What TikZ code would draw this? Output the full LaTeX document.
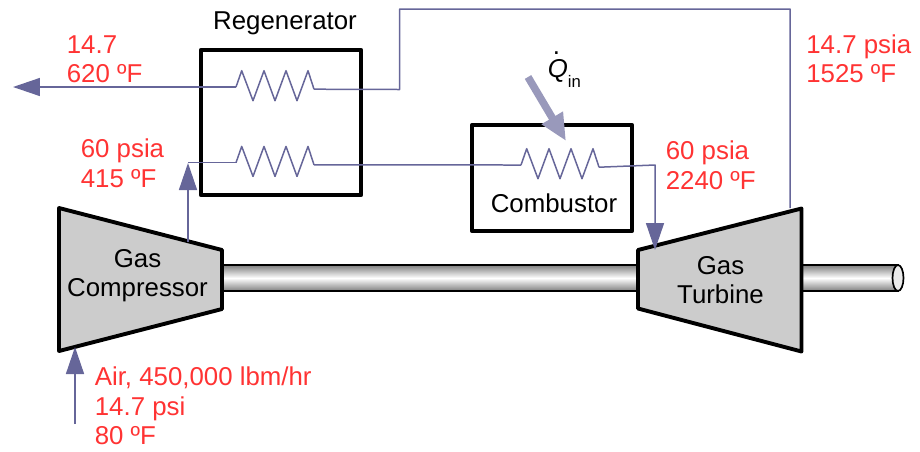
\documentclass[tikz,border=0pt]{standalone}
\usepackage{fontspec}
\setmainfont{Liberation Sans}
\usetikzlibrary{arrows.meta}
\definecolor{flowblue}{HTML}{666699}
\definecolor{heatblue}{HTML}{9999BB}
\definecolor{statered}{HTML}{FF3333}
\definecolor{machinegray}{HTML}{CCCCCC}
\newcommand{\coil}[3]{%
  \coordinate (#1in) at (#2,#3);
  \draw[flow] (#1in) -- ++(5.7,-16.3) -- ++(11.3,30) -- ++(11,-30) -- ++(11,30)
    -- ++(11,-30) -- ++(11,30) -- ++(11,-30) -- ++(6,18.5) coordinate (#1out);
}
\begin{document}
\begin{tikzpicture}[
  x=.02cm,y=-.02cm,
  font=\fontsize{14.7}{16.7}\selectfont,
  flow/.style={draw=flowblue,line width=.03cm,line join=round},
  flowhead/.style={flow,-{Triangle[length=.54cm,width=.36cm,fill=flowblue]}},
  heatflow/.style={draw=heatblue,line width=.15cm,
    -{Triangle[length=.54cm,width=.46cm,fill=heatblue]}},
  vessel/.style={draw=black,line width=.078cm,line join=round},
  machine/.style={vessel,fill=machinegray},
  shaft/.style={draw=black,line width=.034cm,top color=black!50,bottom color=black!50,middle color=white},
  lab/.style={inner sep=0pt,align=center,anchor=north},
  statelab/.style={inner sep=0pt,align=left,anchor=north west,text=statered}
]
\useasboundingbox (0,0) rectangle (920,451);
\draw[shaft] (222,265) rectangle (638,291);
\draw[shaft] (802,265) rectangle (898,291);
\draw[draw=black,line width=.034cm,fill=white!92!black] (898,278) ellipse (5.5 and 13);
\draw[machine] (59,208) -- (222,250) -- (222,309) -- (59,351) -- cycle;
\draw[machine] (638,250) -- (801.5,208.5) -- (801.5,351.5) -- (638,308.5) -- cycle;
\node[vessel,minimum width=3.21cm,minimum height=2.906cm,inner sep=0pt] (regen) at (281,122.4) {};
\node[vessel,minimum width=3.21cm,minimum height=2.11cm,inner sep=0pt] (combustor) at (552,178) {};
\node[lab,anchor=base] (regenlab) at (285,29) {Regenerator};
\node[lab,anchor=base] (comblab) at (554,212.7) {Combustor};
\node[lab] (complab) at (137.5,249) {Gas\\Compressor};
\node[lab] (turblab) at (720.5,256) {Gas\\Turbine};
\coil{hot}{236}{87}
\coil{cold}{236}{162.7}
\coil{burn}{521}{165}
\coordinate (airin) at (75,424);
\coordinate (airend) at (75,347);
\coordinate (compout) at (188,242);
\coordinate (coldturn) at (188,163);
\coordinate (burnturn) at (655,165);
\coordinate (turbin) at (655,250);
\coordinate (turbout) at (790,208);
\coordinate (exhaust) at (13,87);
\coordinate (heatstart) at (528,77);
\coordinate (heatend) at (566,141);
\draw[flowhead] (airin) -- (airend);
\draw[flowhead] (compout) -- (coldturn);
\draw[flow] (188,162.7) -- (coldin);
\draw[flow] (coldout) -- (burnin);
\draw[flowhead] (burnout) -- (burnturn) -- (turbin);
\draw[flow] (turbout) -- (790,9) -- (399.5,9) -- (399.5,89.5) -- (hotout);
\draw[flowhead] (hotin) -- (exhaust);
\draw[heatflow] (heatstart) -- (heatend);
\node[inner sep=0pt,anchor=base west] (qin) at (547.5,77)
  {\makebox[0pt][l]{\hspace{.19em}\raisebox{.875em}{.}}\textit{Q}\raisebox{-.42em}{\fontsize{9.5}{10}\selectfont in}};
\node[statelab] (stateexh) at (66.5,34.9) {14.7\\620 ºF};
\node[statelab] (statecomp) at (80.5,138.6) {60 psia\\415 ºF};
\node[statelab] (stateturbout) at (806,34.3) {14.7 psia\\1525 ºF};
\node[statelab] (stateturbin) at (665.5,140.6) {60 psia\\2240 ºF};
\node[statelab] (stateair) at (94.5,366.6) {Air, 450,000 lbm/hr\\14.7 psi\\80 ºF};
\end{tikzpicture}
\end{document}
